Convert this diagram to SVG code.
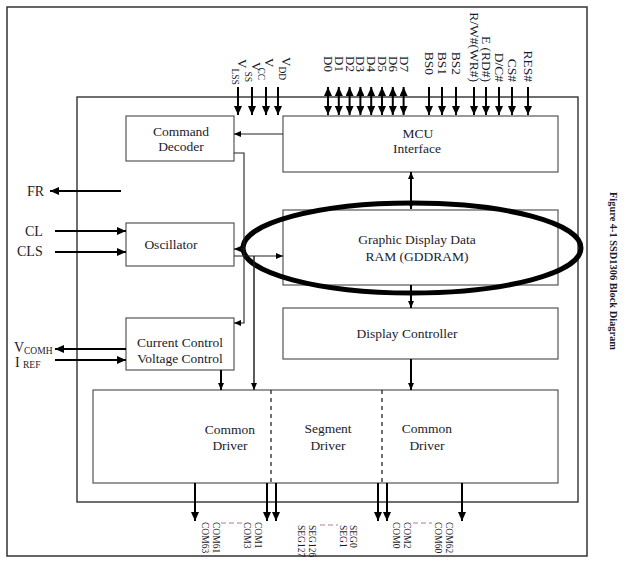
<svg xmlns="http://www.w3.org/2000/svg" width="628" height="563" viewBox="0 0 628 563">
<defs>
<style>
text{font-family:"Liberation Serif","Times New Roman",serif;fill:#1b1b2b}
.box{fill:none;stroke:#555;stroke-width:1.2}
.frame{fill:none;stroke:#222;stroke-width:1.3}
.pin{stroke:#000;stroke-width:2;fill:none}
.thin{stroke:#222;stroke-width:1.1;fill:none}
.dash{stroke:#111;stroke-width:1.2;stroke-dasharray:4 4;fill:none}
.sep{stroke:#c9aab2;stroke-width:1.5;stroke-dasharray:5 3;fill:none}
.lbl{font-size:13.5px}
.v{font-size:13px}
.sub{font-size:9.5px}
.b{font-size:13.5px;text-anchor:middle}
.l{font-size:14px}
.s{font-size:9.5px}
</style>
<marker id="a" markerUnits="userSpaceOnUse" markerWidth="9" markerHeight="8" refX="9" refY="4" orient="auto-start-reverse"><path d="M0,0 L9,4 L0,8 z" fill="#000"/></marker>
<marker id="m" markerUnits="userSpaceOnUse" markerWidth="7" markerHeight="6" refX="7" refY="3" orient="auto-start-reverse"><path d="M0,0 L7,3 L0,6 z" fill="#000"/></marker>
</defs>
<rect x="0" y="0" width="628" height="563" fill="#fff"/>
<rect class="frame" x="7" y="7" width="580" height="549" style="stroke:#333;stroke-width:1.5"/>
<rect class="frame" x="77" y="97" width="501" height="405"/>

<g id="command-decoder"><rect class="box" x="126" y="116" width="108" height="45"/><text class="b" x="181" y="136">Command</text><text class="b" x="181" y="151">Decoder</text></g>
<g id="mcu-interface"><rect class="box" x="283" y="116" width="275" height="56"/><text class="b" x="418" y="138">MCU</text><text class="b" x="417" y="153">Interface</text></g>
<g id="oscillator"><rect class="box" x="126" y="223" width="108" height="43"/><text class="b" x="171" y="249">Oscillator</text></g>
<g id="gddram"><rect class="box" x="283" y="210" width="275" height="75"/><text class="b" x="417" y="244">Graphic Display Data</text><text class="b" x="417" y="261">RAM (GDDRAM)</text></g>
<g id="current-control"><rect class="box" x="126" y="318" width="108" height="52"/><text class="b" x="180" y="347">Current Control</text><text class="b" x="180" y="363">Voltage Control</text></g>
<g id="display-controller"><rect class="box" x="283" y="308" width="275" height="51"/><text class="b" x="407" y="338">Display Controller</text></g>
<g id="drivers"><rect class="box" x="93" y="390" width="465" height="93"/>
<text class="b" x="230" y="434">Common</text><text class="b" x="230" y="450">Driver</text>
<text class="b" x="328" y="433">Segment</text><text class="b" x="328" y="450">Driver</text>
<text class="b" x="427" y="433">Common</text><text class="b" x="427" y="450">Driver</text></g>
<ellipse id="highlight" cx="412" cy="248" rx="169" ry="45" fill="none" stroke="#000" stroke-width="5"/>

<g id="connectors">
<line class="pin" x1="238" y1="87" x2="238" y2="115" marker-end="url(#a)"/>
<line class="pin" x1="252" y1="87" x2="252" y2="115" marker-end="url(#a)"/>
<line class="pin" x1="266" y1="87" x2="266" y2="115" marker-end="url(#a)"/>
<line class="pin" x1="278" y1="87" x2="278" y2="115" marker-end="url(#a)"/>
<line class="pin" x1="328" y1="87" x2="328" y2="115" marker-start="url(#a)" marker-end="url(#a)"/>
<line class="pin" x1="338.8" y1="87" x2="338.8" y2="115" marker-start="url(#a)" marker-end="url(#a)"/>
<line class="pin" x1="349.6" y1="87" x2="349.6" y2="115" marker-start="url(#a)" marker-end="url(#a)"/>
<line class="pin" x1="360.4" y1="87" x2="360.4" y2="115" marker-start="url(#a)" marker-end="url(#a)"/>
<line class="pin" x1="371.2" y1="87" x2="371.2" y2="115" marker-start="url(#a)" marker-end="url(#a)"/>
<line class="pin" x1="382" y1="87" x2="382" y2="115" marker-start="url(#a)" marker-end="url(#a)"/>
<line class="pin" x1="392.8" y1="87" x2="392.8" y2="115" marker-start="url(#a)" marker-end="url(#a)"/>
<line class="pin" x1="403.6" y1="87" x2="403.6" y2="115" marker-start="url(#a)" marker-end="url(#a)"/>
<line class="pin" x1="429" y1="87" x2="429" y2="115" marker-end="url(#a)"/>
<line class="pin" x1="442" y1="87" x2="442" y2="115" marker-end="url(#a)"/>
<line class="pin" x1="456" y1="87" x2="456" y2="115" marker-end="url(#a)"/>
<line class="pin" x1="474" y1="87" x2="474" y2="115" marker-end="url(#a)"/>
<line class="pin" x1="486" y1="87" x2="486" y2="115" marker-end="url(#a)"/>
<line class="pin" x1="499" y1="87" x2="499" y2="115" marker-end="url(#a)"/>
<line class="pin" x1="512" y1="87" x2="512" y2="115" marker-end="url(#a)"/>
<line class="pin" x1="528" y1="87" x2="528" y2="115" marker-end="url(#a)"/>

<line class="pin" x1="121" y1="191" x2="50" y2="191" marker-end="url(#a)"/>
<line class="pin" x1="55" y1="231" x2="126" y2="231" marker-end="url(#a)"/>
<line class="pin" x1="55" y1="252" x2="126" y2="252" marker-end="url(#a)"/>
<line class="pin" x1="126" y1="349" x2="55" y2="349" marker-end="url(#a)"/>
<line class="pin" x1="55" y1="360" x2="126" y2="360" marker-end="url(#a)"/>

<line class="thin" x1="283" y1="134" x2="234" y2="134" marker-end="url(#m)"/>
<polyline class="thin" points="234,153 244,153 244,323 234,323" marker-end="url(#m)"/>
<line class="thin" x1="244" y1="249" x2="234" y2="249" marker-end="url(#m)"/>
<line class="thin" x1="234" y1="256" x2="283" y2="256" marker-end="url(#m)"/>
<line class="thin" x1="254" y1="256" x2="254" y2="390" style="stroke-width:1.5" marker-end="url(#m)"/>
<line class="pin" x1="221" y1="370" x2="221" y2="390" marker-end="url(#m)"/>
<line class="pin" x1="411" y1="172" x2="411" y2="209" marker-start="url(#m)" marker-end="url(#m)"/>
<line class="pin" x1="411" y1="285" x2="411" y2="308" marker-end="url(#m)"/>
<line class="pin" x1="411" y1="359" x2="411" y2="390" marker-end="url(#m)"/>

<line class="dash" x1="271" y1="390" x2="271" y2="483"/>
<line class="dash" x1="382" y1="390" x2="382" y2="483"/>

<line class="pin" x1="195" y1="483" x2="195" y2="521" marker-end="url(#a)"/>
<line class="pin" x1="267" y1="483" x2="267" y2="521" marker-end="url(#a)"/>
<line class="pin" x1="276" y1="483" x2="276" y2="521" marker-end="url(#a)"/>
<line class="pin" x1="378" y1="483" x2="378" y2="521" marker-end="url(#a)"/>
<line class="pin" x1="387" y1="483" x2="387" y2="521" marker-end="url(#a)"/>
<line class="pin" x1="462" y1="483" x2="462" y2="521" marker-end="url(#a)"/>

<line class="sep" x1="221" y1="523" x2="242" y2="523"/>
<line class="sep" x1="320" y1="525" x2="338" y2="525"/>
<line class="sep" x1="413" y1="523" x2="432" y2="523"/>
</g>

<g id="pin-labels-top">
<text class="v" transform="translate(238,59) rotate(90)">V<tspan class="sub" dy="6">LSS</tspan></text>
<text class="v" transform="translate(252,62) rotate(90)">V<tspan class="sub" dy="7">SS</tspan></text>
<text class="v" transform="translate(265,58) rotate(90)">V<tspan class="sub" dy="7">CC</tspan></text>
<text class="v" transform="translate(282,57) rotate(90)">V<tspan class="sub" dy="3">DD</tspan></text>
<text class="v" transform="translate(324,56) rotate(90)">D0</text>
<text class="v" transform="translate(334.8,56) rotate(90)">D1</text>
<text class="v" transform="translate(345.6,56) rotate(90)">D2</text>
<text class="v" transform="translate(356.4,56) rotate(90)">D3</text>
<text class="v" transform="translate(367.2,56) rotate(90)">D4</text>
<text class="v" transform="translate(378,56) rotate(90)">D5</text>
<text class="v" transform="translate(388.8,56) rotate(90)">D6</text>
<text class="v" transform="translate(399.6,56) rotate(90)">D7</text>
<text class="lbl" text-anchor="end" transform="translate(425,75) rotate(90)">BS0</text>
<text class="lbl" text-anchor="end" transform="translate(438,75) rotate(90)">BS1</text>
<text class="lbl" text-anchor="end" transform="translate(452,75) rotate(90)">BS2</text>
<text class="lbl" text-anchor="end" transform="translate(469.5,82) rotate(90)">R/W#(WR#)</text>
<text class="lbl" text-anchor="end" transform="translate(482,82) rotate(90)">E (RD#)</text>
<text class="lbl" text-anchor="end" transform="translate(494.5,82) rotate(90)">D/C#</text>
<text class="lbl" text-anchor="end" transform="translate(507.5,82) rotate(90)">CS#</text>
<text class="lbl" text-anchor="end" transform="translate(523.5,82) rotate(90)">RES#</text>
</g>

<g id="pin-labels-left">
<text class="l" x="27" y="196">FR</text>
<text class="l" x="25" y="236">CL</text>
<text class="l" x="17" y="256">CLS</text>
<text class="l" x="14" y="352">V<tspan x="24" y="354" style="font-size:9.5px">COMH</tspan></text>
<text class="l" x="15" y="367">I<tspan x="23" y="368" style="font-size:9.5px">REF</tspan></text>
</g>

<g id="pin-labels-bottom">
<text class="s" transform="translate(202,522) rotate(90)">COM63</text>
<text class="s" transform="translate(213,522) rotate(90)">COM61</text>
<text class="s" transform="translate(244,522) rotate(90)">COM3</text>
<text class="s" transform="translate(255,522) rotate(90)">COM1</text>
<text class="s" transform="translate(298,525) rotate(90)">SEG127</text>
<text class="s" transform="translate(309,525) rotate(90)">SEG126</text>
<text class="s" transform="translate(340,525) rotate(90)">SEG1</text>
<text class="s" transform="translate(350,525) rotate(90)">SEG0</text>
<text class="s" transform="translate(393,522) rotate(90)">COM0</text>
<text class="s" transform="translate(404,522) rotate(90)">COM2</text>
<text class="s" transform="translate(435,522) rotate(90)">COM60</text>
<text class="s" transform="translate(446,522) rotate(90)">COM62</text>
</g>

<text id="caption" transform="translate(610,192) rotate(90)" style="font-size:9.5px;font-weight:bold" textLength="158" lengthAdjust="spacingAndGlyphs">Figure 4-1 SSD1306 Block Diagram</text>
</svg>
